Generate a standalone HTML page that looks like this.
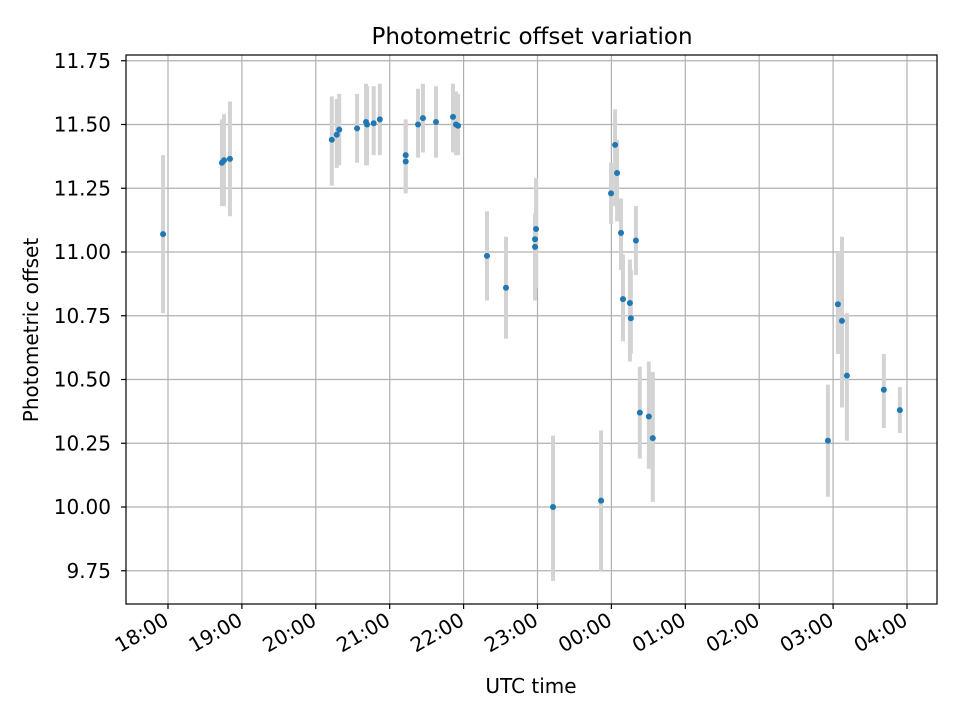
<!DOCTYPE html>
<html><head><meta charset="utf-8"><style>
body{margin:0;background:#fff}
svg text{font-family:"DejaVu Sans","Liberation Sans",sans-serif;fill:#000}
</style></head><body>
<svg id="chart" width="960" height="720" xmlns="http://www.w3.org/2000/svg">
<rect width="960" height="720" fill="#fff"/>
<g id="grid"></g>
<g id="errs"></g>
<g id="pts"></g>
<rect x="126" y="55" width="811" height="549" fill="none" stroke="#000" stroke-width="1.2"/>
<g id="ticks"></g>
<text x="532" y="44" text-anchor="middle" font-size="23">Photometric offset variation</text>
<text x="531" y="693" text-anchor="middle" font-size="20">UTC time</text>
<text transform="translate(38,330) rotate(-90)" text-anchor="middle" font-size="20">Photometric offset</text>
</svg>
<script>
// minutes after 18:00 UTC
const times=[-4,43.8,45.5,50.3,133,137,139,153.5,160.8,161.6,167,172,193,193,203,207,217.6,231.4,233.8,235.5,259,274.4,298.8,298,298,312.6,351.6,359.7,363,364.6,367.8,369.4,375,375.8,379.9,383.1,390.4,393.6,535.8,543.9,547.2,551.2,581.2,594.2];
const values=[11.07,11.35,11.36,11.365,11.44,11.46,11.48,11.485,11.51,11.50,11.505,11.52,11.38,11.355,11.50,11.525,11.51,11.53,11.50,11.495,10.985,10.86,11.09,11.05,11.02,10.00,10.025,11.23,11.42,11.31,11.075,10.815,10.80,10.74,11.045,10.37,10.355,10.27,10.26,10.795,10.73,10.515,10.46,10.38];
const errLow=[10.76,11.18,11.18,11.14,11.26,11.33,11.34,11.35,11.34,11.34,11.38,11.38,11.24,11.23,11.37,11.39,11.37,11.39,11.38,11.38,10.81,10.66,10.86,10.84,10.81,9.71,9.75,11.11,11.18,11.12,10.93,10.65,10.57,10.60,10.91,10.19,10.15,10.02,10.04,10.60,10.39,10.26,10.31,10.29];
const errHigh=[11.38,11.52,11.54,11.59,11.61,11.60,11.62,11.62,11.66,11.65,11.65,11.66,11.52,11.50,11.64,11.66,11.65,11.66,11.63,11.62,11.16,11.06,11.29,11.15,11.15,10.28,10.30,11.35,11.56,11.44,11.21,10.99,10.97,10.93,11.18,10.55,10.57,10.53,10.48,11.00,11.06,10.76,10.60,10.47];
const xTickVals=[0,60,120,180,240,300,360,420,480,540,600];
const xTickLabels=["18:00","19:00","20:00","21:00","22:00","23:00","00:00","01:00","02:00","03:00","04:00"];
const yTickVals=[9.75,10.0,10.25,10.5,10.75,11.0,11.25,11.5,11.75];
const yTickLabels=["9.75","10.00","10.25","10.50","10.75","11.00","11.25","11.50","11.75"];
const X=m=>168+m*73.9/60;
const Y=v=>507-(v-10)*255;
const NS="http://www.w3.org/2000/svg";
function mk(t,a,p){const e=document.createElementNS(NS,t);for(const k in a)e.setAttribute(k,a[k]);p.appendChild(e);return e;}
const grid=document.getElementById('grid'),ticks=document.getElementById('ticks'),errs=document.getElementById('errs'),pts=document.getElementById('pts');
xTickVals.forEach((v,i)=>{const x=X(v);
 let g=mk('line',{x1:x,x2:x,y1:55,y2:604,stroke:'#b0b0b0','stroke-width':1.2},grid);
 
 
 let t=mk('line',{x1:x,x2:x,y1:604,y2:609,stroke:'#000','stroke-width':1.2},ticks);
 
 
 let l=mk('text',{transform:`translate(${x+2},${624}) rotate(-30)`,'text-anchor':'end','font-size':20},ticks);
 l.textContent=xTickLabels[i];
 
 
});
yTickVals.forEach((v,i)=>{const y=Y(v);
 let g=mk('line',{x1:126,x2:937,y1:y,y2:y,stroke:'#b0b0b0','stroke-width':1.2},grid);
 
 
 let t=mk('line',{x1:121,x2:126,y1:y,y2:y,stroke:'#000','stroke-width':1.2},ticks);
 
 
 let l=mk('text',{x:111,y:y+7,'text-anchor':'end','font-size':20},ticks);
 l.textContent=yTickLabels[i];
 
 
});
times.forEach((m,i)=>{const x=X(m);
 let e=mk('line',{x1:x,x2:x,y1:Y(errLow[i]),y2:Y(errHigh[i]),stroke:'#d3d3d3','stroke-width':4},errs);
 
 
 let c=mk('circle',{cx:x,cy:Y(values[i]),r:3,fill:'#1f77b4'},pts);
 
 
});
</script>
</body></html>
